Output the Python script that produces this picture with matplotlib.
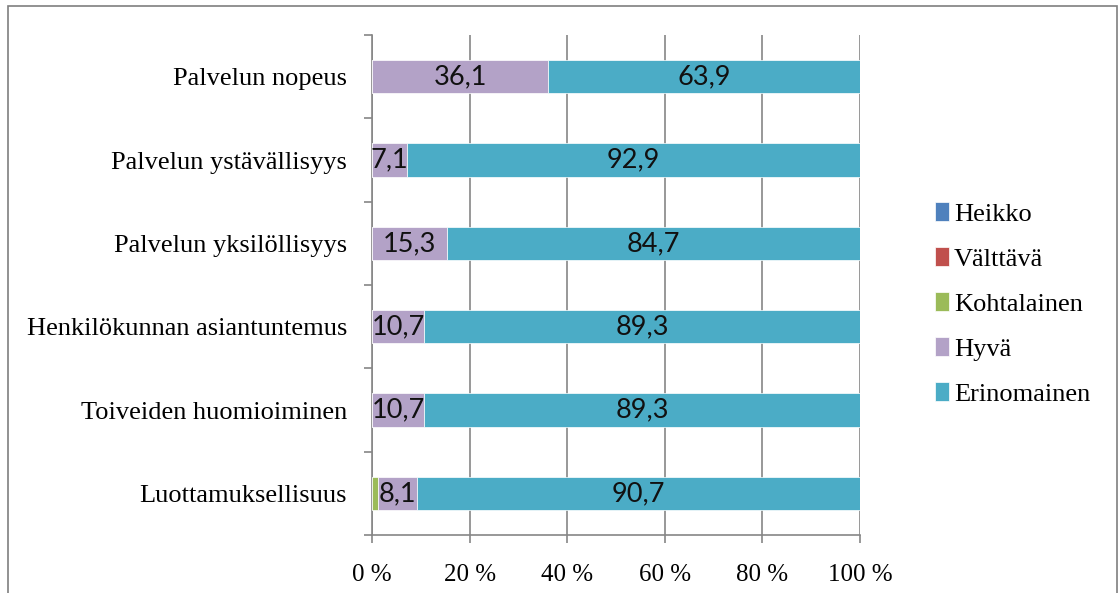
import numpy as np
import matplotlib
matplotlib.use("Agg")
import matplotlib.pyplot as plt
from matplotlib.patches import Rectangle

# data (top to bottom as in chart)
categories = ["Palvelun nopeus", "Palvelun ystävällisyys", "Palvelun yksilöllisyys",
              "Henkilökunnan asiantuntemus", "Toiveiden huomioiminen", "Luottamuksellisuus"]
series = ["Heikko", "Välttävä", "Kohtalainen", "Hyvä", "Erinomainen"]
heikko = [0, 0, 0, 0, 0, 0]
valttava = [0, 0, 0, 0, 0, 0]
kohtalainen = [0, 0, 0, 0, 0, 1.2]
hyva = [36.1, 7.1, 15.3, 10.7, 10.7, 8.1]
erinomainen = [63.9, 92.9, 84.7, 89.3, 89.3, 90.7]
colors = ["#4F81BD", "#C0504D", "#9BBB59", "#B3A2C7", "#4BACC6"]
labelled = ["Hyvä", "Erinomainen"]

serif = ["Liberation Serif", "DejaVu Serif"]
grid_c = "#868686"

fig = plt.figure(figsize=(11.2, 5.93), dpi=100)
ax = fig.add_axes([372/1120, 1 - 535/593, 488/1120, 500/593])

y = np.arange(len(categories))[::-1]
left = np.zeros(len(categories))
for name, vals, c in zip(series, [heikko, valttava, kohtalainen, hyva, erinomainen], colors):
    vals = np.array(vals, dtype=float)
    ax.barh(y, vals, left=left, height=0.4, color=c, label=name,
            edgecolor="white", linewidth=0.5, zorder=3)
    if name in labelled:
        for yi, l, v in zip(y, left, vals):
            ax.text(l + v / 2, yi, f"{v:.1f}".replace(".", ","), ha="center", va="center",
                    fontsize=19.5, family=["Lato", "DejaVu Sans"], color="#111111", zorder=4)
    left += vals

ax.set_xlim(0, 100)
ax.set_ylim(-0.5, len(categories) - 0.5)
ax.set_xticks(np.arange(0, 101, 20))
ax.set_xticklabels([f"{t} %" for t in range(0, 101, 20)], family=serif, fontsize=18)
ax.set_yticks(y)
ax.set_yticklabels(categories, family=serif, fontsize=19)
ax.tick_params(axis="y", length=0, pad=18)
ax.set_yticks(np.arange(-0.5, len(categories), 1), minor=True)
ax.tick_params(axis="y", which="minor", length=6, color=grid_c, width=1.2)
ax.tick_params(axis="x", length=6, color=grid_c, width=1.2, pad=15)
ax.grid(axis="x", color=grid_c, linewidth=1.2, zorder=0)
for s in ["top", "right"]:
    ax.spines[s].set_visible(False)
for s in ["left", "bottom"]:
    ax.spines[s].set_color(grid_c)
    ax.spines[s].set_linewidth(1.2)

ax.legend(loc="center left", bbox_to_anchor=(1.105, (535 - 304) / 500),
          frameon=False, prop={"family": serif, "size": 19}, handlelength=0.52,
          handleheight=0.75, handletextpad=0.2, labelspacing=0.8)

fig.patches.append(Rectangle((8/1120, -0.05), 1109/1120, 1.05 - 6/593, transform=fig.transFigure,
                             fill=False, edgecolor="#7f7f7f", linewidth=1.2))

fig.savefig("out.png", dpi=100)
